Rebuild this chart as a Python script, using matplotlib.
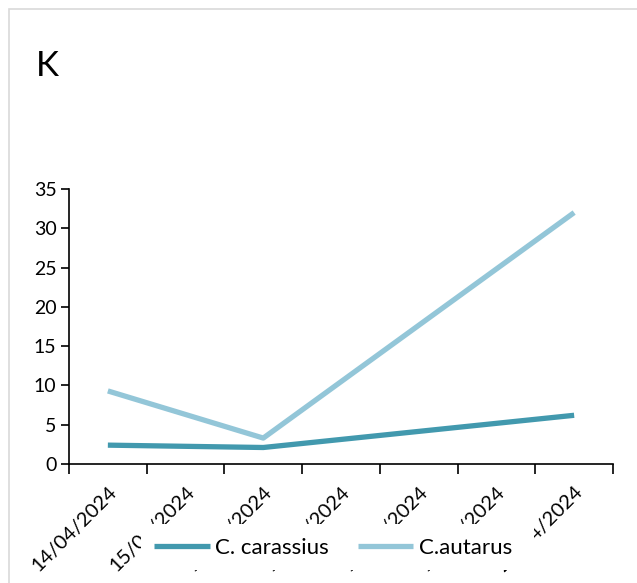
import matplotlib
matplotlib.use("Agg")
import matplotlib.pyplot as plt
from matplotlib.patches import Rectangle
import numpy as np

categories = ["14/04/2024", "15/04/2024", "16/04/2024", "17/04/2024",
              "18/04/2024", "19/04/2024", "20/04/2024"]
point_index = [0, 2, 6]
carassius = [2.4, 2.1, 6.2]
autarus = [9.3, 3.3, 32.0]
yticks = [0, 5, 10, 15, 20, 25, 30, 35]

plt.rcParams['font.family'] = ['Lato', 'DejaVu Sans']

fig = plt.figure(figsize=(6.37, 5.83), dpi=100)
W, H = 637, 583
ax = fig.add_axes([69 / W, 1 - 464 / H, 544 / W, 275 / H])

xpos = np.array(point_index) + 0.5
c1 = '#4299AE'
c2 = '#93C6D8'
ax.plot(xpos, carassius, color=c1, lw=3.8, solid_capstyle='butt', label='C. carassius', zorder=3)
ax.plot(xpos, autarus, color=c2, lw=3.8, solid_capstyle='butt', label='C.autarus', zorder=2)

ax.set_xlim(0, 7)
ax.set_ylim(0, 35)
ax.set_yticks(yticks)
ax.set_yticklabels([str(v) for v in yticks], fontsize=14)
ax.set_xticks(np.arange(0, 8))
ax.set_xticklabels([])
ax.set_xticks(np.arange(len(categories)) + 0.5, minor=True)
ax.set_xticklabels(categories, minor=True, rotation=45, ha='right',
                   rotation_mode='anchor', fontsize=14.5)
ax.tick_params(axis='x', which='minor', length=0, pad=14)
ax.tick_params(axis='x', which='major', length=7, width=1.2, direction='out')
ax.tick_params(axis='y', length=6, width=1.2, direction='out', pad=3)
for s in ['top', 'right']:
    ax.spines[s].set_visible(False)
for s in ['left', 'bottom']:
    ax.spines[s].set_linewidth(1.2)

fig.text(36 / W, 1 - 66 / H, 'K', fontsize=25, va='center', ha='left')

# white legend area (Excel legend box overlapping the tick labels)
fig.add_artist(Rectangle((141 / W, 1 - 570 / H), 393 / W, 46 / H,
                         transform=fig.transFigure, facecolor='white',
                         edgecolor='none', zorder=5))

leg = fig.legend(handles=ax.get_lines(), loc='center',
                 bbox_to_anchor=(333 / W, 1 - 548 / H), ncol=2,
                 fontsize=16, frameon=False, handlelength=2.5, handletextpad=0.25,
                 columnspacing=1.3, borderpad=0.2)
leg.set_zorder(10)

fig.add_artist(Rectangle((9 / W, -0.1), 1.2, 1 - 9 / H + 0.1, transform=fig.transFigure,
                         fill=False, edgecolor='#d9d9d9', lw=1.2, clip_on=False, zorder=0))

fig.savefig('out.png', dpi=100)
